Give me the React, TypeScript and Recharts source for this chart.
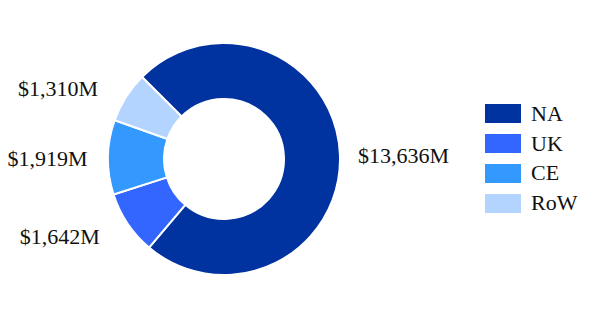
import React from "react";
import { PieChart, Pie, Cell, Legend } from "recharts";

const categories = ["NA", "UK", "CE", "RoW"];
const revenue = [13636, 1642, 1919, 1310];
const colors = ["#0033a0", "#3366ff", "#3399ff", "#b3d4ff"];

const data = categories.map((name, i) => ({ name, value: revenue[i] }));

const RADIAN = Math.PI / 180;
const FONT = "'Liberation Serif', 'Times New Roman', serif";

const renderLabel = (props: any) => {
  const { cx, cy, midAngle, outerRadius, value } = props;
  const r = outerRadius + 20;
  const cos = Math.cos(-midAngle * RADIAN);
  const sin = Math.sin(-midAngle * RADIAN);
  const pad = 12 * Math.abs(Math.sin(2 * midAngle * RADIAN));
  const left = cos < 0;
  const x = cx + r * cos + (left ? -pad : pad - 3);
  const y = cy + r * sin + 2;
  return (
    <text
      x={x}
      y={y}
      textAnchor={left ? "end" : "start"}
      dominantBaseline="central"
      fontFamily={FONT}
      fontSize={22}
      fill="#111"
    >
      {`$${Number(value).toLocaleString("en-US")}M`}
    </text>
  );
};

const renderLegend = () => (
  <div style={{ fontFamily: FONT, fontSize: 22, color: "#111" }}>
    {categories.map((name, i) => (
      <div
        key={name}
        style={{ display: "flex", alignItems: "center", height: 29.8 }}
      >
        <div
          style={{
            width: 36,
            height: 19,
            background: colors[i],
            marginRight: 10,
          }}
        />
        <span style={{ lineHeight: "22px" }}>{name}</span>
      </div>
    ))}
  </div>
);

export default function App() {
  return (
    <PieChart
      width={592}
      height={310}
      margin={{ top: 0, right: 0, bottom: 0, left: 0 }}
    >
      <Pie
        data={data}
        dataKey="value"
        nameKey="name"
        cx={216}
        cy={151}
        innerRadius={60}
        outerRadius={116}
        startAngle={135}
        endAngle={-225}
        stroke="#fff"
        strokeWidth={2}
        label={renderLabel}
        labelLine={false}
        isAnimationActive={false}
      >
        {data.map((d, i) => (
          <Cell key={d.name} fill={colors[i]} />
        ))}
      </Pie>
      <Legend
        layout="vertical"
        verticalAlign="middle"
        align="right"
        content={renderLegend}
        wrapperStyle={{ left: 477, top: 91, width: 110, right: "auto" }}
      />
    </PieChart>
  );
}
